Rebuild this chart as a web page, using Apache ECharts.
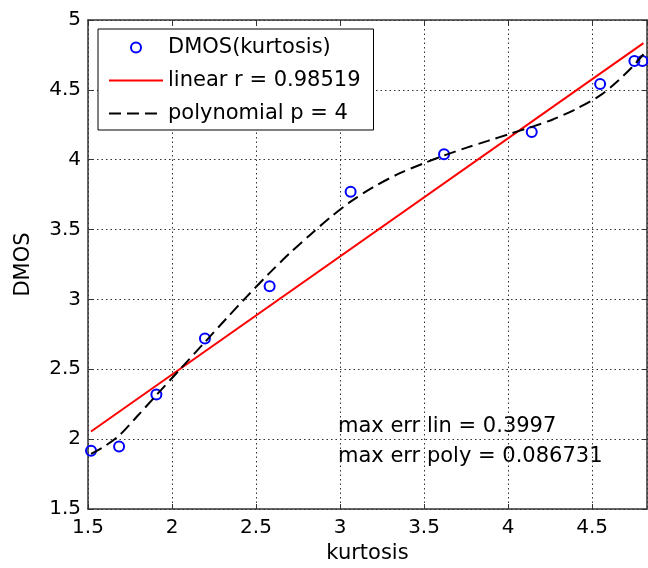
<!DOCTYPE html>
<html>
<head>
<meta charset="utf-8">
<title>DMOS vs kurtosis</title>
<script src="https://cdn.jsdelivr.net/npm/echarts@6/dist/echarts.min.js"></script>
<style>
  html, body { margin: 0; padding: 0; background: #fff; }
  #main { width: 648px; height: 568px; }
</style>
</head>
<body>
<div id="main"></div>
<script>
const kurtosis = [1.518, 1.685, 1.907, 2.196, 2.581, 3.063, 3.619, 4.141, 4.548, 4.752, 4.800];
const dmos = [1.917, 1.948, 2.320, 2.720, 3.094, 3.771, 4.039, 4.198, 4.542, 4.707, 4.707];

// linear fit, end points
const linX = [1.518, 4.806];
const linY = [2.055, 4.834];

// polynomial fit, points
const polyX = [1.518, 1.600, 1.685, 1.790, 1.907, 2.048, 2.196, 2.325, 2.445, 2.581, 2.700, 2.820, 2.940, 3.063, 3.200, 3.350, 3.500, 3.619, 3.750, 3.880, 4.010, 4.141, 4.270, 4.400, 4.548, 4.650, 4.740, 4.806];
const polyY = [1.895, 1.950, 2.025, 2.160, 2.315, 2.500, 2.695, 2.865, 3.020, 3.190, 3.330, 3.460, 3.585, 3.700, 3.805, 3.900, 3.975, 4.030, 4.085, 4.135, 4.185, 4.235, 4.290, 4.360, 4.460, 4.560, 4.665, 4.755];

const names = ['DMOS(kurtosis)', 'linear r = 0.98519', 'polynomial p = 4'];
const notes = ['max err lin = 0.3997', 'max err poly = 0.086731'];

const FONT = 'DejaVu Sans';
const xMin = 1.5, xMax = 4.827;
const yMin = 1.5, yMax = 5;

const zip = (a, b) => a.map((v, i) => [v, b[i]]);

const chart = echarts.init(document.getElementById('main'));

// 网格点线
const dotted = { show: true, lineStyle: { color: '#333', width: 1, type: [1.5, 3] } };
const edge = { show: true, onZero: false, lineStyle: { color: '#333', width: 1.5 } };
const tickIn = { show: true, inside: true, length: 5, lineStyle: { color: '#333' } };

const option = {
  backgroundColor: '#fff',
  animation: false,
  textStyle: { fontFamily: FONT, color: '#000' },
  grid: { left: 88, right: 1, top: 20, bottom: 59, containLabel: false, outerBoundsMode: 'none' },
  legend: {
    // 线条图例不画中间的点
    data: [
      { name: names[0] },
      { name: names[1], itemStyle: { opacity: 0 } },
      { name: names[2], itemStyle: { opacity: 0 } }
    ],
    orient: 'vertical',
    left: 98,
    top: 29,
    padding: [8, 13, 6, 10],
    itemWidth: 54,
    itemHeight: 10,
    itemGap: 12,
    selectedMode: false,
    backgroundColor: '#fff',
    borderColor: '#000',
    borderWidth: 1,
    borderRadius: 0,
    textStyle: { fontFamily: FONT, fontSize: 21, color: '#000' }
  },
  xAxis: [
    {
      type: 'value', min: xMin, max: xMax, interval: 0.5,
      name: 'kurtosis', nameLocation: 'middle', nameGap: 34,
      nameTextStyle: { fontFamily: FONT, fontSize: 21, color: '#000' },
      axisLine: edge, axisTick: tickIn, splitLine: dotted,
      axisLabel: { fontFamily: FONT, fontSize: 20, color: '#000', margin: 9, showMaxLabel: false }
    },
    {
      type: 'value', position: 'top', min: xMin, max: xMax, interval: 0.5,
      axisLine: edge, axisTick: tickIn, splitLine: { show: false },
      axisLabel: { show: false }
    }
  ],
  yAxis: [
    {
      type: 'value', min: yMin, max: yMax, interval: 0.5,
      name: 'DMOS', nameLocation: 'middle', nameGap: 54, nameRotate: 90,
      nameTextStyle: { fontFamily: FONT, fontSize: 21, color: '#000' },
      axisLine: edge, axisTick: tickIn, splitLine: dotted,
      axisLabel: { fontFamily: FONT, fontSize: 20, color: '#000', margin: 7 }
    },
    {
      type: 'value', position: 'right', min: yMin, max: yMax, interval: 0.5,
      axisLine: edge, axisTick: tickIn, splitLine: { show: false },
      axisLabel: { show: false }
    }
  ],
  series: [
    {
      name: names[0],
      type: 'scatter',
      symbol: 'circle',
      symbolSize: 10,
      itemStyle: { color: 'rgba(0,0,0,0)', borderColor: '#0000ff', borderWidth: 2, opacity: 1 },
      data: zip(kurtosis, dmos)
    },
    {
      name: names[1],
      type: 'line',
      symbol: 'none',
      lineStyle: { color: '#ff0000', width: 2 },
      itemStyle: { color: '#ff0000' },
      data: zip(linX, linY)
    },
    {
      name: names[2],
      type: 'line',
      symbol: 'none',
      smooth: 0.3,
      lineStyle: { color: '#000', width: 2, type: [12, 6] },
      itemStyle: { color: '#000' },
      data: zip(polyX, polyY)
    }
  ],
  graphic: notes.map((t, i) => ({
    type: 'text',
    left: 338,
    top: 416 + i * 30,
    style: { text: t, fontFamily: FONT, fontSize: 21, fill: '#000' }
  }))
};

chart.setOption(option);
</script>
</body>
</html>
